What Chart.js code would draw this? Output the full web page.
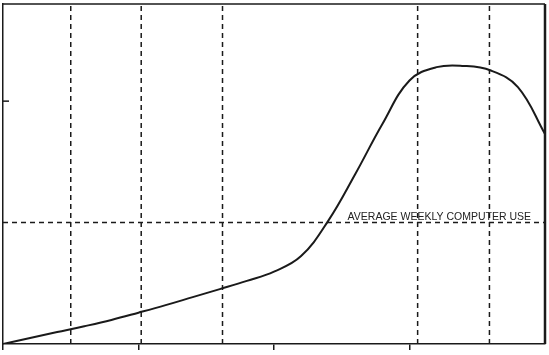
<!DOCTYPE html>
<html>
<head>
<meta charset="utf-8">
<script src="https://cdn.jsdelivr.net/npm/chart.js@4"></script>
<style>
  html, body { margin: 0; padding: 0; background: #fff; }
  #wrap { width: 549px; height: 355px; }
</style>
</head>
<body>
<div id="wrap"><canvas id="c" width="549" height="355"></canvas></div>
<script>
// ---- data ----
const usageX = [0, 0.2, 0.4, 0.6, 0.8, 1.0, 1.2, 1.4, 1.6, 1.8, 2.0, 2.2, 2.4, 2.6, 2.8, 3.0, 3.2, 3.4, 3.6, 3.8, 4.0];
const usageY = [0, 0.25, 0.49, 0.73, 0.99, 1.29, 1.60, 1.93, 2.26, 2.60, 2.98, 3.62, 5.07, 7.00, 9.06, 10.85, 11.40, 11.45, 11.26, 10.58, 8.65];
const eventX = [0.5, 1.02, 1.62, 3.06, 3.59];
const averageUse = 5;
const averageLabel = 'AVERAGE WEEKLY COMPUTER USE';
const xTickValues = [0, 1, 2, 3];
const yTickValues = [10];
const xRange = [0, 4];
const yRange = [0, 14];

// ---- datasets built from the arrays ----
const ink = '#1a1a1a';
const datasets = [];
datasets.push({
  label: 'usage',
  data: usageX.map((x, i) => ({ x: x, y: usageY[i] })),
  borderColor: ink,
  borderWidth: 2,
  pointRadius: 0,
  fill: false,
  tension: 0.4
});
eventX.forEach(x => {
  datasets.push({
    label: 'event',
    data: [{ x: x, y: yRange[0] }, { x: x, y: yRange[1] }],
    borderColor: ink,
    borderWidth: 1.5,
    borderDash: [5, 4],
    pointRadius: 0,
    fill: false
  });
});
datasets.push({
  label: 'average',
  data: [{ x: xRange[0], y: averageUse }, { x: xRange[1], y: averageUse }],
  borderColor: ink,
  borderWidth: 1.5,
  borderDash: [5, 4],
  pointRadius: 0,
  fill: false
});

const framePlugin = {
  id: 'frame',
  afterDatasetsDraw(chart) {
    const { ctx, chartArea: a, scales } = chart;
    ctx.save();
    ctx.strokeStyle = ink;
    ctx.lineWidth = 1.5;
    ctx.beginPath();
    ctx.moveTo(a.left, a.top);
    ctx.lineTo(a.right, a.top);
    ctx.stroke();
    ctx.lineWidth = 2.5;
    ctx.beginPath();
    ctx.moveTo(a.right, a.top);
    ctx.lineTo(a.right, a.bottom);
    ctx.stroke();
    ctx.lineWidth = 1.5;
    scales.y.ticks.forEach(t => {
      const py = scales.y.getPixelForValue(t.value);
      ctx.beginPath();
      ctx.moveTo(a.left, py);
      ctx.lineTo(a.left + 6, py);
      ctx.stroke();
    });
    ctx.fillStyle = '#222';
    ctx.font = '10.5px "Liberation Sans", Arial, sans-serif';
    ctx.textAlign = 'right';
    ctx.textBaseline = 'alphabetic';
    ctx.fillText(averageLabel, scales.x.right - 14, scales.y.getPixelForValue(averageUse) - 3);
    ctx.restore();
  }
};

new Chart(document.getElementById('c'), {
  type: 'line',
  data: { datasets: datasets },
  options: {
    responsive: false,
    animation: false,
    devicePixelRatio: 1,
    layout: { padding: { left: 3, top: 4, right: 4, bottom: 5 } },
    plugins: { legend: { display: false }, tooltip: { enabled: false }, title: { display: false } },
    scales: {
      x: {
        type: 'linear',
        min: xRange[0],
        max: xRange[1],
        afterBuildTicks: s => { s.ticks = xTickValues.map(v => ({ value: v })); },
        ticks: { display: false },
        grid: { drawOnChartArea: false, drawTicks: true, tickLength: 6, color: ink, lineWidth: 1.5 },
        border: { display: true, color: ink, width: 1.5 }
      },
      y: {
        type: 'linear',
        min: yRange[0],
        max: yRange[1],
        afterBuildTicks: s => { s.ticks = yTickValues.map(v => ({ value: v })); },
        ticks: { display: false },
        grid: { drawOnChartArea: false, drawTicks: false },
        border: { display: true, color: ink, width: 1.5 }
      }
    }
  },
  plugins: [framePlugin]
});
</script>
</body>
</html>
